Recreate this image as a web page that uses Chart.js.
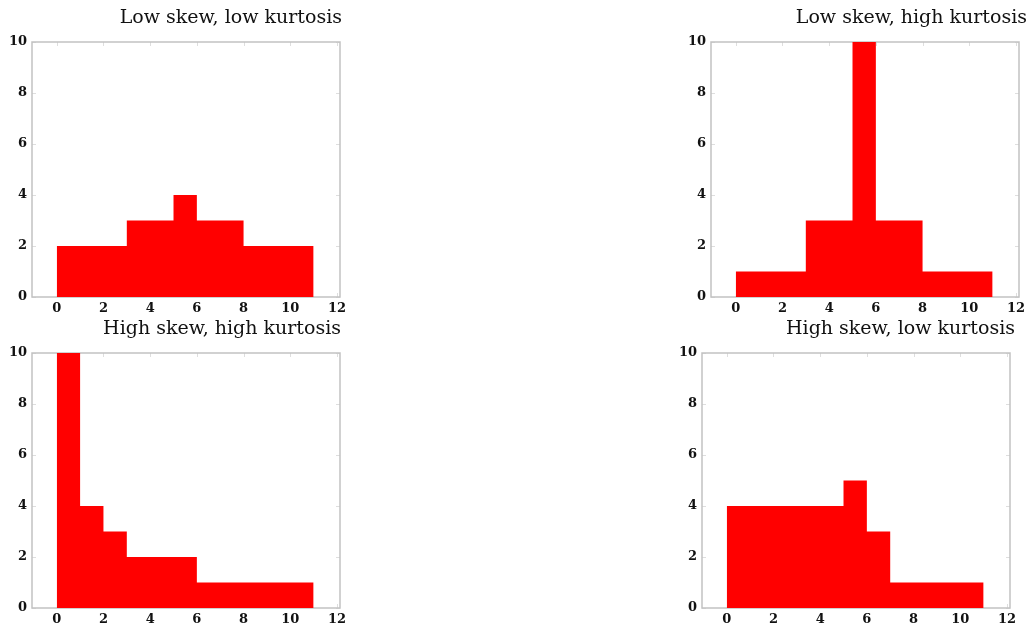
<!DOCTYPE html>
<html>
<head>
<meta charset="utf-8">
<script src="https://cdn.jsdelivr.net/npm/chart.js@4.4.1/dist/chart.umd.min.js"></script>
<style>
  html, body { margin: 0; padding: 0; background: #fff; width: 1026px; height: 630px; overflow: hidden; position: relative; }
  canvas { position: absolute; }
</style>
</head>
<body>
<canvas id="tl"></canvas>
<canvas id="tr"></canvas>
<canvas id="bl"></canvas>
<canvas id="br"></canvas>
<script>
// Histogram bin edges (unit width bins from 0 to 11)
const binEdges = [0, 1, 2, 3, 4, 5, 6, 7, 8, 9, 10, 11];

// Counts per bin for each distribution
const lowSkewLowKurtosis   = [2, 2, 2, 3, 3, 4, 3, 3, 2, 2, 2];
const lowSkewHighKurtosis  = [1, 1, 1, 3, 3, 10, 3, 3, 1, 1, 1];
const highSkewHighKurtosis = [10, 4, 3, 2, 2, 2, 1, 1, 1, 1, 1];
const highSkewLowKurtosis  = [4, 4, 4, 4, 4, 5, 3, 1, 1, 1, 1];

// Axis ticks
const xTicks = [0, 2, 4, 6, 8, 10, 12];
const yTicks = [0, 2, 4, 6, 8, 10];

// Panel titles
const panelTitles = [
  'Low skew, low kurtosis',
  'Low skew, high kurtosis',
  'High skew, high kurtosis',
  'High skew, low kurtosis'
];

// Frame around the plot area with small inward tick marks on every side
const framePlugin = {
  id: 'frame',
  beforeDatasetsDraw(chart) {
    const { ctx, chartArea: a, scales: { x, y } } = chart;
    ctx.save();
    ctx.strokeStyle = '#dedede';
    ctx.lineWidth = 1;
    ctx.beginPath();
    x.ticks.forEach(t => {
      const px = Math.round(x.getPixelForValue(t.value)) + 0.5;
      ctx.moveTo(px, a.top); ctx.lineTo(px, a.top + 4);
      ctx.moveTo(px, a.bottom); ctx.lineTo(px, a.bottom - 4);
    });
    y.ticks.forEach(t => {
      const py = Math.round(y.getPixelForValue(t.value)) + 0.5;
      ctx.moveTo(a.left, py); ctx.lineTo(a.left + 4, py);
      ctx.moveTo(a.right, py); ctx.lineTo(a.right - 4, py);
    });
    ctx.stroke();
    ctx.strokeStyle = '#c2c2c2';
    ctx.lineWidth = 1.5;
    ctx.strokeRect(a.left, a.top, a.right - a.left, a.bottom - a.top);
    ctx.restore();
  }
};

const tickFont = { family: 'DejaVu Serif', size: 13, weight: 'bold' };
const SPARE = 12; // room to the right of the title for the last x tick label

// Each bin's count is held from its left edge to its right edge (stepped fill)
function histogramPoints(counts) {
  return binEdges.map((e, i) => ({ x: e, y: counts[Math.min(i, counts.length - 1)] }));
}

function makePanel(id, box, title, counts) {
  const cv = document.getElementById(id);
  const w = box.w + SPARE;
  cv.width = w;
  cv.height = box.h;
  cv.style.left = box.left + 'px';
  cv.style.top = box.top + 'px';
  cv.style.width = w + 'px';
  cv.style.height = box.h + 'px';

  return new Chart(cv, {
    type: 'line',
    data: {
      datasets: [{
        data: histogramPoints(counts),
        stepped: 'before',
        fill: 'origin',
        backgroundColor: '#ff0000',
        borderColor: '#ff0000',
        borderWidth: 0,
        pointRadius: 0
      }]
    },
    options: {
      responsive: false,
      animation: false,
      layout: { padding: { left: 0, right: SPARE, top: 0, bottom: 0 } },
      plugins: {
        legend: { display: false },
        tooltip: { enabled: false },
        title: {
          display: true,
          text: title,
          align: 'end',
          color: '#111',
          font: { family: 'DejaVu Serif', size: 19, weight: 'normal', lineHeight: 1.2 },
          padding: { top: 7, bottom: 42 - 7 - 22.8 }
        }
      },
      scales: {
        x: {
          type: 'linear',
          offset: false,
          min: -1.06,
          max: 12.13,
          grid: { display: false, drawTicks: false },
          border: { display: false },
          afterBuildTicks: s => { s.ticks = xTicks.map(v => ({ value: v })); },
          afterFit: s => { s.height = box.xh; s.paddingLeft = 0; s.paddingRight = SPARE + box.pr; },
          ticks: { color: '#111', font: tickFont, padding: 4, maxRotation: 0, autoSkip: false }
        },
        y: {
          min: 0,
          max: 10,
          grid: { display: false, drawTicks: false },
          border: { display: false },
          afterBuildTicks: s => { s.ticks = yTicks.map(v => ({ value: v })); },
          afterFit: s => { s.width = 32; s.paddingTop = 0; s.paddingBottom = 0; },
          ticks: { color: '#111', font: tickFont, padding: 5 }
        }
      }
    },
    plugins: [framePlugin]
  });
}

makePanel('tl', { left: 0,   top: 0,   w: 342, h: 320, xh: 23, pr: 2 }, panelTitles[0], lowSkewLowKurtosis);
makePanel('tr', { left: 679, top: 0,   w: 348, h: 320, xh: 23, pr: 8 }, panelTitles[1], lowSkewHighKurtosis);
makePanel('bl', { left: 0,   top: 311, w: 341, h: 319, xh: 22, pr: 1 }, panelTitles[2], highSkewHighKurtosis);
makePanel('br', { left: 670, top: 311, w: 345, h: 319, xh: 22, pr: 5 }, panelTitles[3], highSkewLowKurtosis);
</script>
</body>
</html>
